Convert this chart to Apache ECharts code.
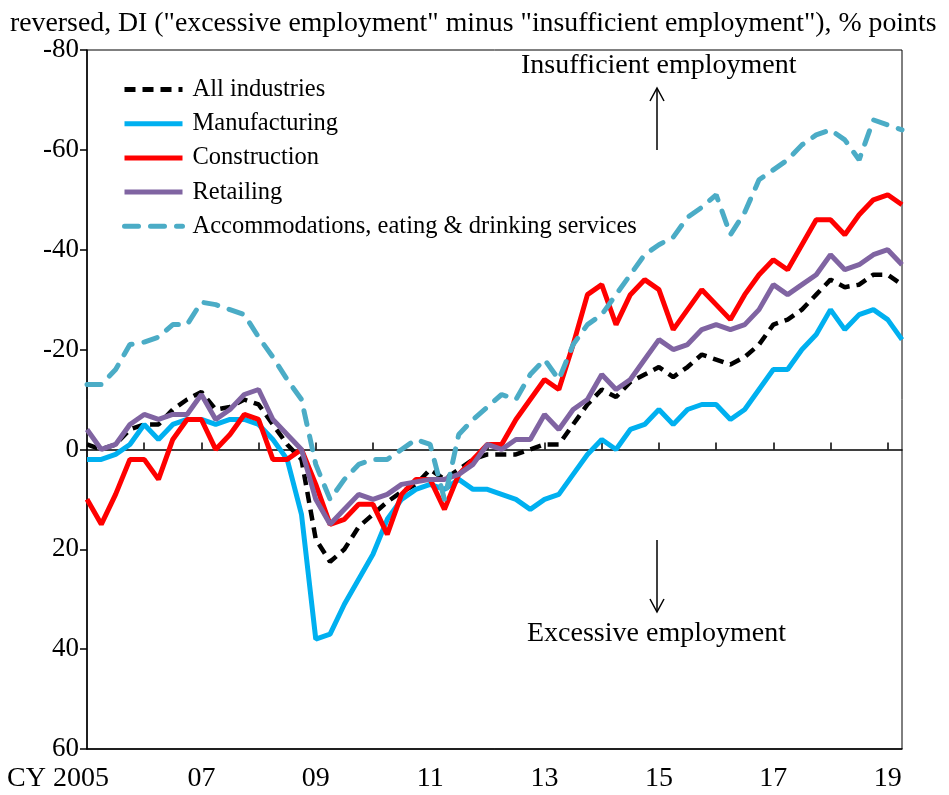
<!doctype html>
<html>
<head>
	<meta charset="UTF-8">
	<title>Employment conditions DI</title>
	<script src="https://cdn.jsdelivr.net/npm/echarts@6/dist/echarts.min.js"></script>
	<style>
		html, body {
			margin: 0;
			padding: 0;
			background: #fff;
		}
		#chart {
			width: 949px;
			height: 795px;
		}
	</style>
</head>
<body>
<div id="chart"></div>
<script>
	// quarterly, CY2005 Q1 .. CY2019 Q2
	var quarters = [];
	for (var y = 2005; y <= 2019; y++) {
		for (var q = 1; q <= 4; q++) {
			if (y == 2019 && q > 2) break;
			quarters.push(y + 'Q' + q);
		}
	}
	var xTickLabels = ['CY 2005', '07', '09', '11', '13', '15', '17', '19'];
	var yTicks = [-80, -60, -40, -20, 0, 20, 40, 60];

	var allIndustries = [-1, 0, -1, -4, -5, -5, -8, -10, -11.5, -8, -8.5, -10, -9, -5, -1, 2,
		18, 22.5, 20, 15.5, 13, 10.5, 8.5, 7, 4, 6, 4, 2, 1, 1, 1, 0,
		-1, -1, -5, -9, -12, -10.5, -13.5, -15, -16.5, -14.5, -16.5, -19, -18, -17, -18.5, -21,
		-25, -26, -28, -31, -34, -32.5, -33, -35, -35, -33];
	var manufacturing = [2, 2, 1, -1, -5, -2, -5, -6, -6, -5, -6, -6, -5, -2, 2, 13,
		38, 37, 31, 26, 21, 14, 10, 8, 7, 8, 6, 8, 8, 9, 10, 12,
		10, 9, 5, 1, -2, 0, -4, -5, -8, -5, -8, -9, -9, -6, -8, -12,
		-16, -16, -20, -23, -28, -24, -27, -28, -26, -22];
	var construction = [10, 15, 9, 2, 2, 6, -2, -6, -6, 0, -3, -7, -6, 2, 2, 0,
		7, 15, 14, 11, 11, 17, 9, 6, 6, 12, 5, 2, -1, -1, -6, -10,
		-14, -12, -21, -31, -33, -25, -31, -34, -32, -24, -28, -32, -29, -26, -31, -35,
		-38, -36, -41, -46, -46, -43, -47, -50, -51, -49];
	var retailing = [-4, 0, -1, -5, -7, -6, -7, -7, -11, -6, -8, -11, -12, -6, -3, 0,
		10, 15, 12, 9, 10, 9, 7, 6.5, 6, 6, 5, 3, -1, 0, -2, -2,
		-7, -4, -8, -10, -15, -12, -14, -18, -22, -20, -21, -24, -25, -24, -25, -28,
		-33, -31, -33, -35, -39, -36, -37, -39, -40, -37];
	var accommodations = [-13, -13, -16, -21, -21.5, -22.5, -25, -25, -29.5, -29, -28, -27, -22.5, -18.5, -14, -10,
		3, 10, 6, 3, 2, 2, 0, -2, -1, 10, -3, -6, -8.5, -11, -10, -15,
		-18, -14, -21, -25, -27, -31, -35, -39, -41, -42.5, -46.5, -48.5, -51, -43, -47.5, -54,
		-56, -58, -61, -63, -64, -62, -58, -66, -65, -64];

	var font = 'Liberation Serif';
	var chart = echarts.init(document.getElementById('chart'));

	var option = {
		animation: false,
		textStyle: {fontFamily: font, color: '#000'},
		title: {
			text: 'reversed, DI ("excessive employment" minus "insufficient employment"), % points',
			left: 5,
			top: 5,
			textStyle: {fontFamily: font, fontSize: 27.8, fontWeight: 'normal', color: '#000'}
		},
		grid: {
			left: 87, right: 47, top: 50, bottom: 46,
			show: true,
			borderColor: '#000',
			borderWidth: 1
		},
		legend: {
			orient: 'vertical',
			left: 117,
			top: 72,
			itemWidth: 58,
			itemHeight: 14,
			itemGap: 9.2,
			itemStyle: {opacity: 0},
			lineStyle: {width: 5},
			textStyle: {fontFamily: font, fontSize: 24.5, color: '#000', padding: [0, 0, 0, 5]},
			data: ['All industries', 'Manufacturing', 'Construction', 'Retailing',
				'Accommodations, eating & drinking services']
		},
		xAxis: [{
			type: 'category',
			data: quarters,
			boundaryGap: false,
			axisLine: {onZero: false, lineStyle: {color: '#000', width: 1.5}},
			axisTick: {show: false},
			axisLabel: {
				interval: function (index) { return index % 8 === 0; },
				formatter: function (v, index) {
					var k = index / 8;
					return k === 0 ? '{first|' + xTickLabels[k] + '}' : xTickLabels[k];
				},
				rich: {first: {fontFamily: font, fontSize: 28, color: '#000', padding: [0, 58, 0, 0]}},
				fontFamily: font,
				fontSize: 28,
				color: '#000',
				margin: 16
			},
			splitLine: {show: false}
		}, {
			// zero line with year ticks
			type: 'category',
			data: quarters,
			boundaryGap: false,
			position: 'bottom',
			axisLine: {onZero: true, lineStyle: {color: '#000', width: 1.5}},
			axisTick: {show: true, inside: true, length: 7, interval: function (index) { return index > 0 && index % 4 === 0; }, lineStyle: {color: '#000', width: 1.5}},
			axisLabel: {show: false},
			splitLine: {show: false}
		}],
		yAxis: {
			type: 'value',
			inverse: true,
			min: yTicks[0],
			max: yTicks[yTicks.length - 1],
			interval: 20,
			axisLine: {show: true, lineStyle: {color: '#000', width: 1.5}},
			axisTick: {show: true, inside: false, length: 7, lineStyle: {color: '#000', width: 1.5}},
			axisLabel: {fontFamily: font, fontSize: 27, color: '#000', margin: 8},
			splitLine: {show: false}
		},
		series: [{
			name: 'All industries',
			type: 'line',
			data: allIndustries,
			symbol: 'none',
			lineStyle: {color: '#000', width: 4.5, type: [11, 7]},
			itemStyle: {color: '#000'}
		}, {
			name: 'Manufacturing',
			type: 'line',
			data: manufacturing,
			symbol: 'none',
			lineStyle: {color: '#00B0F0', width: 5},
			itemStyle: {color: '#00B0F0'}
		}, {
			name: 'Construction',
			type: 'line',
			data: construction,
			symbol: 'none',
			lineStyle: {color: '#FF0000', width: 5},
			itemStyle: {color: '#FF0000'}
		}, {
			name: 'Retailing',
			type: 'line',
			data: retailing,
			symbol: 'none',
			lineStyle: {color: '#8064A2', width: 5},
			itemStyle: {color: '#8064A2'}
		}, {
			name: 'Accommodations, eating & drinking services',
			type: 'line',
			data: accommodations,
			symbol: 'none',
			lineStyle: {color: '#4BACC6', width: 5, type: [14, 12], cap: 'round'},
			itemStyle: {color: '#4BACC6'}
		}],
		graphic: [{
			type: 'text',
			left: 521,
			top: 52,
			style: {text: 'Insufficient employment', font: '28px "Liberation Serif"', fill: '#000'}
		}, {
			type: 'polyline',
			shape: {points: [[657, 150], [657, 89]]},
			style: {stroke: '#000', lineWidth: 1.5, fill: null}
		}, {
			type: 'polyline',
			shape: {points: [[650, 101], [657, 88], [664, 101]]},
			style: {stroke: '#000', lineWidth: 1.5, fill: null}
		}, {
			type: 'polyline',
			shape: {points: [[657, 540], [657, 611]]},
			style: {stroke: '#000', lineWidth: 1.5, fill: null}
		}, {
			type: 'polyline',
			shape: {points: [[650, 599], [657, 612], [664, 599]]},
			style: {stroke: '#000', lineWidth: 1.5, fill: null}
		}, {
			type: 'text',
			left: 527,
			top: 620,
			style: {text: 'Excessive employment', font: '28px "Liberation Serif"', fill: '#000'}
		}]
	};
	chart.setOption(option);
</script>
</body>
</html>
